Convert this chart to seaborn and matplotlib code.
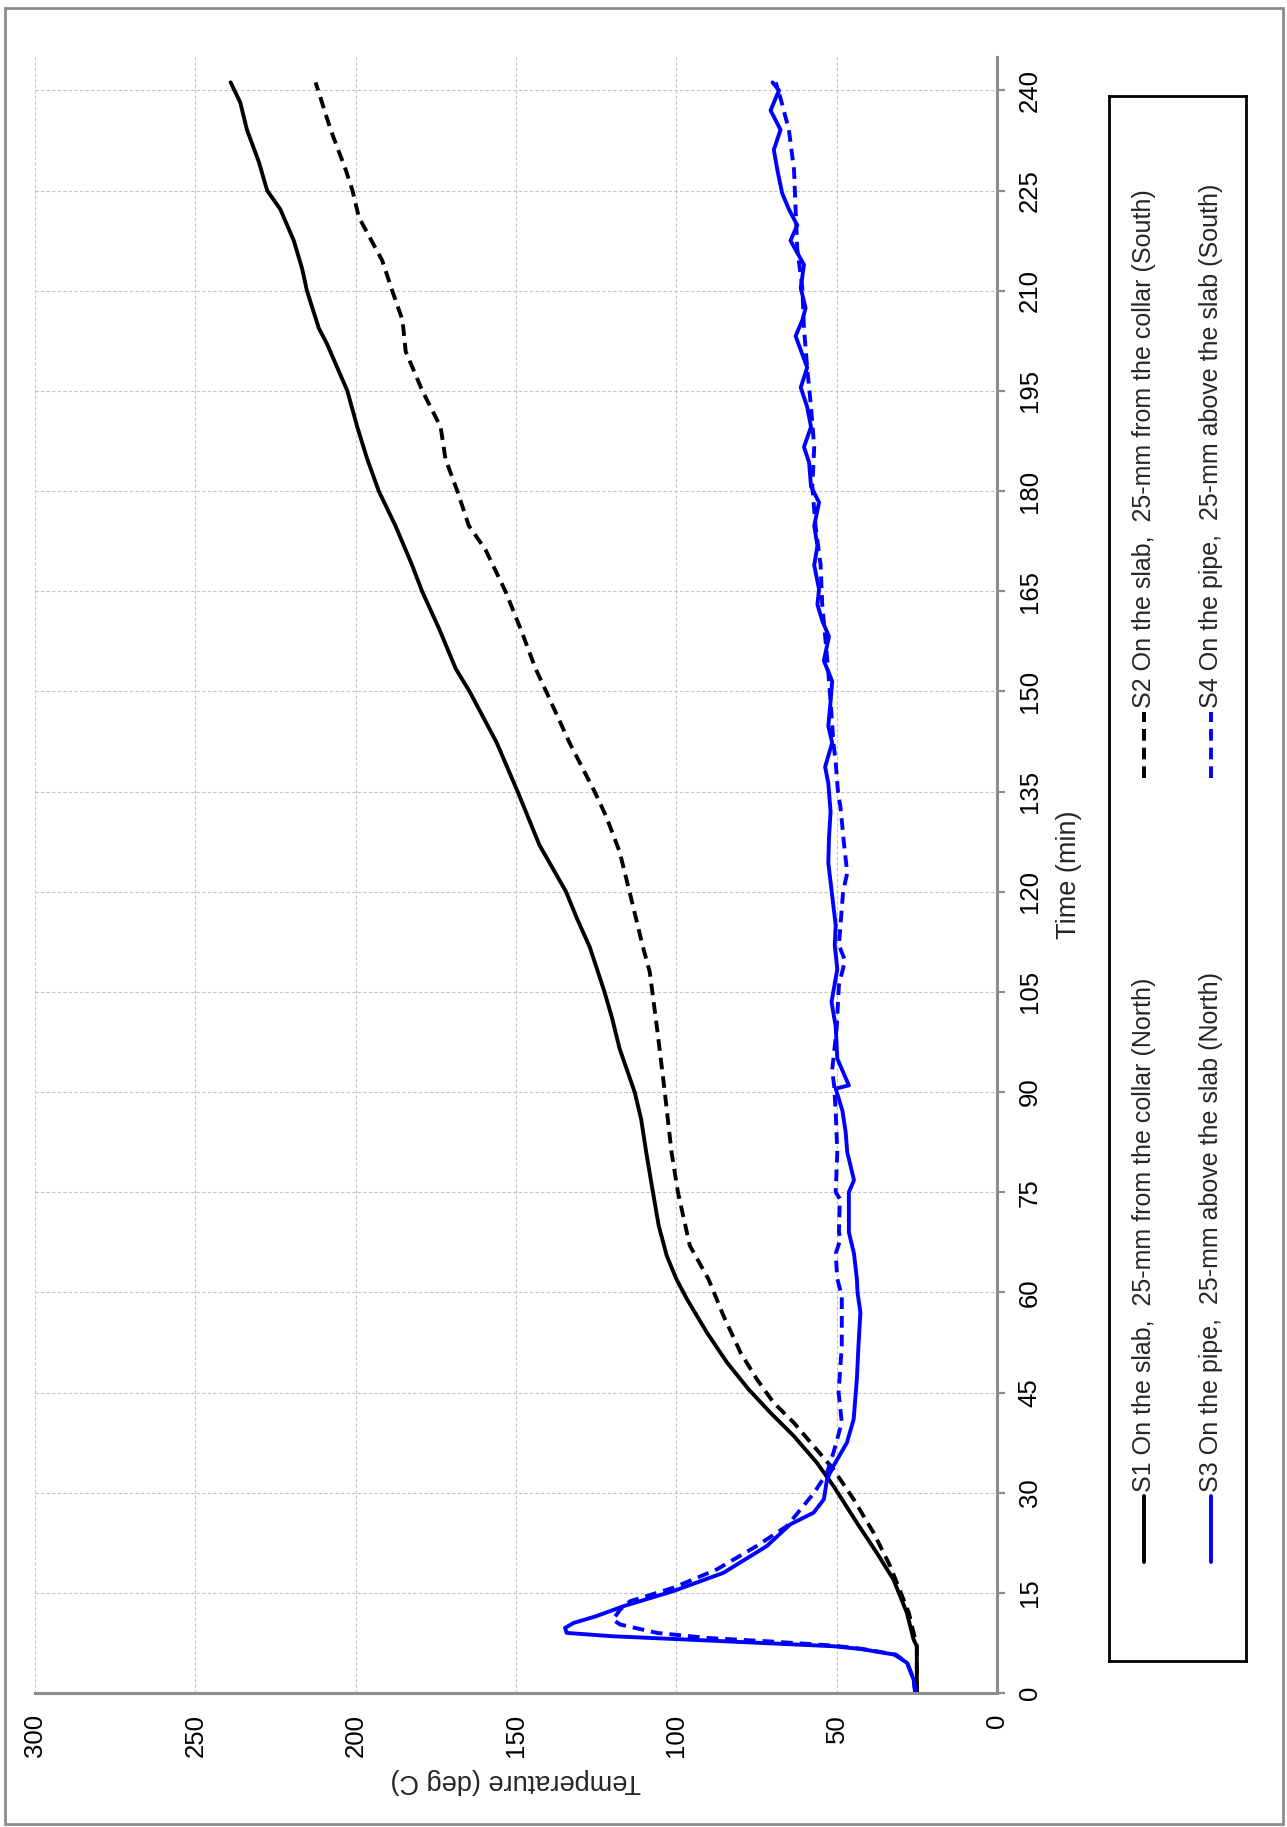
import numpy as np
import pandas as pd
import matplotlib
matplotlib.use('Agg')
import matplotlib.pyplot as plt
import seaborn as sns
from matplotlib.patches import Rectangle

# S1 On the slab, 25-mm from the collar (North) - black solid
s1_time = [0, 4, 7, 8, 12, 17, 21, 25.5, 31, 34.5, 38.5, 42, 45.5, 49.5, 54, 59, 62,
           65.5, 70, 75, 81, 86, 90, 96.5, 101, 105, 111.7, 116, 120, 127, 135, 142.3,
           150, 153.4, 159.4, 165, 168.9, 174.8, 180, 184.8, 189.6, 195, 202, 204.4,
           210, 213.3, 217.5, 222.2, 225, 229.3, 234.1, 238.2, 241.2]
s1_temp = [25, 25, 25, 26, 28.1, 32.3, 37.5, 43.7, 51, 56.2, 63.4, 70.7, 77.5, 84.2, 90.5,
           96.7, 100, 103, 105.5, 107.3, 109.4, 111, 113, 117.7, 120, 122.4, 127, 131,
           134.4, 142.7, 149.5, 156, 164.5, 168.8, 174, 179.3, 182.4, 187.6, 192.8, 196.4,
           199.5, 202.6, 208.9, 211.5, 215.2, 216.7, 219.3, 223.5, 227.6, 230.2, 233.9,
           236, 239]

# S2 On the slab, 25-mm from the collar (South) - black dashed
s2_time = [0, 4, 7, 8, 12, 19, 24, 29, 33.5, 37, 40.5, 43.5, 47, 51, 56.5, 62, 67, 75,
           81, 90, 99.5, 108, 111.7, 120, 126, 131.3, 135, 142.3, 150, 153.4, 159.4, 165,
           171.2, 174.8, 180, 184.8, 189.6, 195, 200.9, 205.6, 210, 214.5, 221, 225,
           228.1, 234.1, 241.2]
s2_temp = [25, 25, 25, 25.5, 27.5, 33.3, 38.5, 44.7, 51, 57.2, 63.4, 69.7, 74.9, 80,
           85.3, 90, 95.8, 99.5, 101.5, 103.6, 106, 108.3, 110.4, 114.6, 117.7, 121.9,
           125.5, 133.3, 140.6, 143.9, 148.6, 153.3, 159.5, 164.7, 168.3, 172, 173.5,
           179.2, 184.4, 185.4, 188.6, 191.7, 199, 201, 203.1, 207.8, 212.5]

# S3 On the pipe, 25-mm above the slab (North) - blue solid
s3_time = [0, 2, 4.5, 5.75, 6.6, 7, 7.75, 8.5, 9, 9.75, 10.5, 11.5, 13, 15.25, 18, 22,
           25.25, 27, 29, 32, 34, 37.5, 41, 47, 52, 57, 60, 62, 65.8, 69, 75, 76.8, 81,
           84, 87.2, 90.5, 91, 95, 99.8, 103.5, 108.4, 112, 115, 119.4, 124.3, 128, 132,
           136.2, 138.7, 142.3, 144.8, 148.5, 151.5, 154.6, 158.2, 160.6, 163, 165.3,
           168.9, 171.8, 174.8, 178.3, 180.7, 184.3, 186.6, 189.6, 192.6, 195.5, 198.5,
           203.2, 205.6, 207.4, 210.4, 213.9, 217.5, 219.8, 222.2, 224.6, 228.1, 231.1,
           234.1, 237, 240, 241.2]
s3_temp = [25.5, 26, 28, 32, 42.6, 51, 85, 120, 134.2, 134.7, 132, 125, 116.5, 101,
           85.3, 71.8, 64.5, 57.2, 54, 53, 51, 46.8, 44.7, 43.7, 43.2, 42.6, 43.5, 43.7,
           44.6, 46.2, 46.2, 44.6, 46.7, 47.2, 48.2, 50.3, 46.2, 49.8, 50.3, 51.6, 49.8,
           50.6, 50.3, 51.4, 52.6, 52.4, 51.9, 52.6, 53.6, 51.4, 52.6, 51.9, 51.4, 54,
           52.4, 54.5, 56, 55.5, 57, 56, 57, 55.5, 58, 58.6, 60.2, 58, 59.2, 61.2, 59.2,
           62.8, 60.7, 59.7, 61.2, 60.2, 64.4, 62.3, 64.9, 67, 68.5, 69.6, 67.5, 70.6,
           68, 70]

# S4 On the pipe, 25-mm above the slab (South) - blue dashed
s4_time = [0, 2, 4.5, 5.75, 6.6, 7.1, 7.7, 8.25, 9, 10.25, 11, 12.5, 13.75, 15.75,
           18.5, 22, 25, 30, 33, 36, 40.5, 45, 52, 59.5, 62, 65.8, 68, 69, 74, 75, 81,
           87, 91, 93.3, 99.5, 106, 109.7, 112, 115, 120, 122.8, 127.1, 132.6, 135,
           139.3, 142.3, 148.5, 154.6, 163, 168.9, 174.8, 180.7, 186.6, 192.6, 198.5,
           204.4, 210.4, 216.3, 222.2, 228.1, 234.1, 238.8, 241.2]
s4_temp = [25.5, 26, 28, 31.5, 42, 51, 70, 90.5, 106, 117.5, 119.8, 117.5, 114.4, 101,
           87.4, 75, 65.5, 57, 53, 51, 48.4, 49.4, 48.4, 48.4, 49.8, 50.3, 48.8, 49.3,
           49, 50.3, 49.8, 50.3, 50.8, 51.4, 50, 49.3, 47.4, 49.3, 48.8, 48, 46.7, 47.7,
           48.8, 49.6, 50.3, 51, 51.9, 52.9, 54.5, 55, 56.6, 57.6, 57, 58, 59.2, 60.2,
           60.7, 62.3, 62.8, 63.3, 64.9, 67.5, 69]

series_labels = ['S1 On the slab,  25-mm from the collar (North)',
                 'S2 On the slab,  25-mm from the collar (South)',
                 'S3 On the pipe,  25-mm above the slab (North)',
                 'S4 On the pipe,  25-mm above the slab (South)']
series_colors = ['black', 'black', '#0000ff', '#0000ff']
dash = (0, (3.0, 1.8))
series_styles = ['-', dash, '-', dash]

temp_ticks = list(range(0, 301, 50))
time_ticks = list(range(0, 241, 15))

W, H = 1287, 1827


def fx(px):
    return px / W


def fy(py):
    return 1 - py / H


sns.set_style('white')
plt.rcParams['font.family'] = ['Liberation Sans', 'DejaVu Sans']

fig = plt.figure(figsize=(W / 100, H / 100), dpi=100)

# chart is drawn turned a quarter turn: temperature runs right to left, time bottom to top
ax = fig.add_axes([fx(35), fy(1693), fx(997) - fx(35), fy(57) - fy(1693)])

all_series = [(s1_time, s1_temp), (s2_time, s2_temp), (s3_time, s3_temp), (s4_time, s4_temp)]
for (t, temp), lab, col, ls in zip(all_series, series_labels, series_colors, series_styles):
    df = pd.DataFrame({'time': t, 'temp': temp})
    sns.lineplot(data=df, x='temp', y='time', orient='y', sort=False, estimator=None,
                 color=col, linewidth=2.8, linestyle=ls, ax=ax, legend=False)

ax.set_xlim(300, 0)
ax.set_ylim(0, 245)
ax.set_xticks(temp_ticks)
ax.set_yticks(time_ticks)
ax.yaxis.tick_right()
ax.yaxis.set_label_position('right')

ax.grid(True, color='#c4c4c4', linestyle=(0, (3, 2)), linewidth=0.8)
for side in ['top', 'left']:
    ax.spines[side].set_visible(False)
for side in ['bottom', 'right']:
    ax.spines[side].set_color('#8c8c8c')
    ax.spines[side].set_linewidth(2.2)

ax.tick_params(axis='both', direction='out', length=6, width=1.6, color='#8c8c8c',
               labelsize=18.5, labelcolor='black')
ax.tick_params(axis='x', labelrotation=90, pad=9)
ax.tick_params(axis='y', labelrotation=90, pad=9)
for lab in ax.get_yticklabels():
    lab.set_va('center')
    lab.set_ha('left')

ax.set_xlabel('Temperature (deg C)', fontsize=19.5, rotation=180, labelpad=8)
ax.set_ylabel('Time (min)', fontsize=19.5, rotation=90, labelpad=10)

# legend box, turned the same way as the chart
lax = fig.add_axes([fx(1109), fy(1661), fx(1246) - fx(1109), fy(96) - fy(1661)])
lax.set_xlim(1109, 1246)
lax.set_ylim(1661, 96)
lax.set_xticks([])
lax.set_yticks([])
for side in lax.spines.values():
    side.set_color('black')
    side.set_linewidth(2)

leg_x = [1144, 1144, 1211, 1211]
leg_y = [1562, 778, 1562, 778]
for lab, col, ls, lx, ly in zip(series_labels, series_colors, series_styles, leg_x, leg_y):
    lax.plot([lx, lx], [ly, ly - 66], color=col, linewidth=2.8, linestyle=ls)
    lax.text(lx, ly - 70, lab, rotation=90, ha='center', va='bottom', fontsize=18)

fig.patches.append(Rectangle((fx(5), fy(1824)), fx(1283) - fx(5), fy(8) - fy(1824),
                             transform=fig.transFigure, fill=False,
                             edgecolor='#8c8c8c', linewidth=2))

plt.savefig('out.png', dpi=100)
